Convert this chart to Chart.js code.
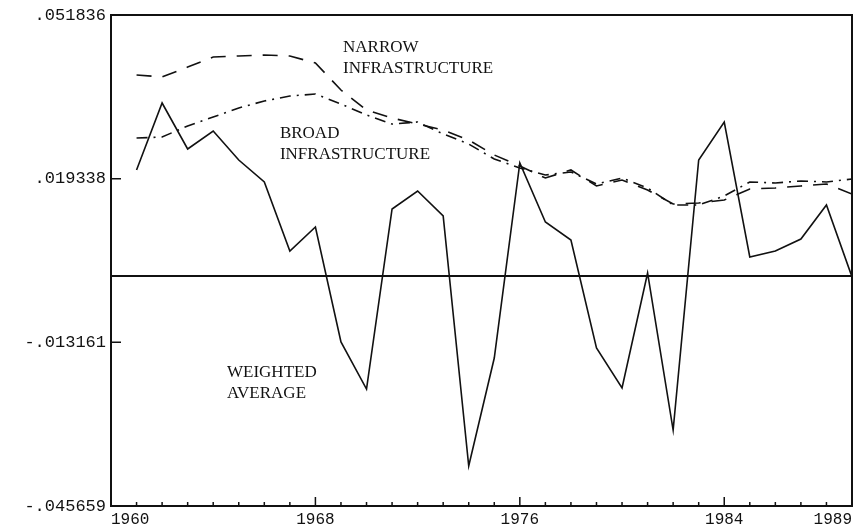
<!DOCTYPE html>
<html>
<head>
<meta charset="utf-8">
<script src="https://cdn.jsdelivr.net/npm/chart.js@4.4.1/dist/chart.umd.min.js"></script>
<style>
  html, body { margin: 0; padding: 0; background: #fff; }
  #wrap { width: 857px; height: 529px; }
</style>
</head>
<body>
<div id="wrap"><canvas id="chart" width="857" height="529"></canvas></div>
<script>
const years = [1961, 1962, 1963, 1964, 1965, 1966, 1967, 1968, 1969, 1970,
               1971, 1972, 1973, 1974, 1975, 1976, 1977, 1978, 1979, 1980,
               1981, 1982, 1983, 1984, 1985, 1986, 1987, 1988, 1989];

const weightedAverage = [0.02106, 0.03436, 0.02523, 0.02880, 0.02304, 0.01868, 0.00498, 0.00974, -0.01309, -0.02243,
                         0.01332, 0.01689, 0.01193, -0.03771, -0.01627, 0.02245, 0.01074, 0.00716, -0.01428, -0.02223,
                         0.00061, -0.03057, 0.02304, 0.03059, 0.00379, 0.00498, 0.00736, 0.01411, -0.00018];

const narrowInfra = [0.03992, 0.03953, 0.04151, 0.04350, 0.04370, 0.04389, 0.04370, 0.04231, 0.03694, 0.03297,
                     0.03138, 0.03019, 0.02900, 0.02702, 0.02404, 0.02185, 0.01947, 0.02106, 0.01788, 0.01907,
                     0.01709, 0.01431, 0.01451, 0.01510, 0.01729, 0.01749, 0.01788, 0.01828, 0.01629];

const broadInfra = [0.02741, 0.02761, 0.02980, 0.03158, 0.03337, 0.03476, 0.03575, 0.03615, 0.03416, 0.03198,
                    0.03019, 0.03059, 0.02821, 0.02622, 0.02324, 0.02146, 0.02007, 0.02066, 0.01828, 0.01947,
                    0.01749, 0.01411, 0.01411, 0.01590, 0.01868, 0.01848, 0.01888, 0.01868, 0.01927];

const yTicks = [-0.045659, -0.013161, 0.019338, 0.051836];
const yTickLabels = ['-.045659', '-.013161', '.019338', '.051836'];
const xLabelYears = [1960, 1968, 1976, 1984, 1989];
const xMajorYears = [1960, 1968, 1976, 1984];

// text labels: [year, value, lines]
const notes = [
    [1969.08, 0.04449, ['NARROW', 'INFRASTRUCTURE']],
    [1966.61, 0.02741, ['BROAD', 'INFRASTRUCTURE']],
    [1964.54, -0.02004, ['WEIGHTED', 'AVERAGE']]
];

const toPoints = vals => vals.map((v, i) => ({ x: years[i], y: v }));

const decor = {
    id: 'decor',
    afterDatasetsDraw(chart) {
        const { ctx, chartArea: a, scales: { x, y } } = chart;
        ctx.save();
        ctx.strokeStyle = '#111';

        // zero line
        ctx.lineWidth = 2;
        const y0 = y.getPixelForValue(0);
        ctx.beginPath();
        ctx.moveTo(a.left, y0);
        ctx.lineTo(a.right, y0);
        ctx.stroke();

        // frame
        ctx.strokeRect(a.left, a.top, a.right - a.left, a.bottom - a.top);

        // inner ticks
        ctx.lineWidth = 1.5;
        ctx.beginPath();
        for (let yr = 1960; yr <= 1989; yr++) {
            const px = x.getPixelForValue(yr);
            const len = xMajorYears.includes(yr) ? 9 : 4;
            ctx.moveTo(px, a.bottom);
            ctx.lineTo(px, a.bottom - len);
        }
        yTicks.forEach(v => {
            const py = y.getPixelForValue(v);
            ctx.moveTo(a.left, py);
            ctx.lineTo(a.left + 10, py);
        });
        ctx.stroke();

        // labels
        ctx.fillStyle = '#111';
        ctx.font = '17px "Liberation Serif", serif';
        ctx.textAlign = 'left';
        ctx.textBaseline = 'alphabetic';
        notes.forEach(([yr, v, lines]) => {
            const px = x.getPixelForValue(yr);
            const py = y.getPixelForValue(v);
            lines.forEach((t, i) => ctx.fillText(t, px, py + i * 21));
        });
        ctx.restore();
    }
};

new Chart(document.getElementById('chart'), {
    type: 'line',
    data: {
        datasets: [
            {
                label: 'Weighted Average',
                data: toPoints(weightedAverage),
                borderColor: '#111',
                borderWidth: 1.6
            },
            {
                label: 'Narrow Infrastructure',
                data: toPoints(narrowInfra),
                borderColor: '#111',
                borderWidth: 1.6,
                borderDash: [15, 11]
            },
            {
                label: 'Broad Infrastructure',
                data: toPoints(broadInfra),
                borderColor: '#111',
                borderWidth: 1.6,
                borderDash: [11, 6, 2, 6]
            }
        ]
    },
    options: {
        responsive: false,
        animation: false,
        elements: { point: { radius: 0 }, line: { tension: 0 } },
        layout: { padding: { top: 15, right: 5, left: 0, bottom: 0 } },
        plugins: { legend: { display: false }, tooltip: { enabled: false } },
        scales: {
            x: {
                type: 'linear',
                min: 1960,
                max: 1989,
                border: { display: false },
                grid: { display: false, drawTicks: false },
                afterBuildTicks: s => { s.ticks = xLabelYears.map(v => ({ value: v })); },
                afterFit: s => { s.height = 23; s.paddingLeft = 0; s.paddingRight = 0; },
                ticks: {
                    align: 'inner',
                    padding: 4,
                    maxRotation: 0,
                    color: '#111',
                    font: { family: '"Liberation Mono", monospace', size: 16 },
                    callback: v => String(v)
                }
            },
            y: {
                min: -0.045659,
                max: 0.051836,
                border: { display: false },
                grid: { display: false, drawTicks: false },
                afterBuildTicks: s => { s.ticks = yTicks.map(v => ({ value: v })); },
                afterFit: s => { s.width = 111; s.paddingTop = 0; s.paddingBottom = 0; },
                ticks: {
                    padding: 5,
                    color: '#111',
                    font: { family: '"Liberation Mono", monospace', size: 17 },
                    callback: v => yTickLabels[yTicks.indexOf(v)]
                }
            }
        }
    },
    plugins: [decor]
});
</script>
</body>
</html>
